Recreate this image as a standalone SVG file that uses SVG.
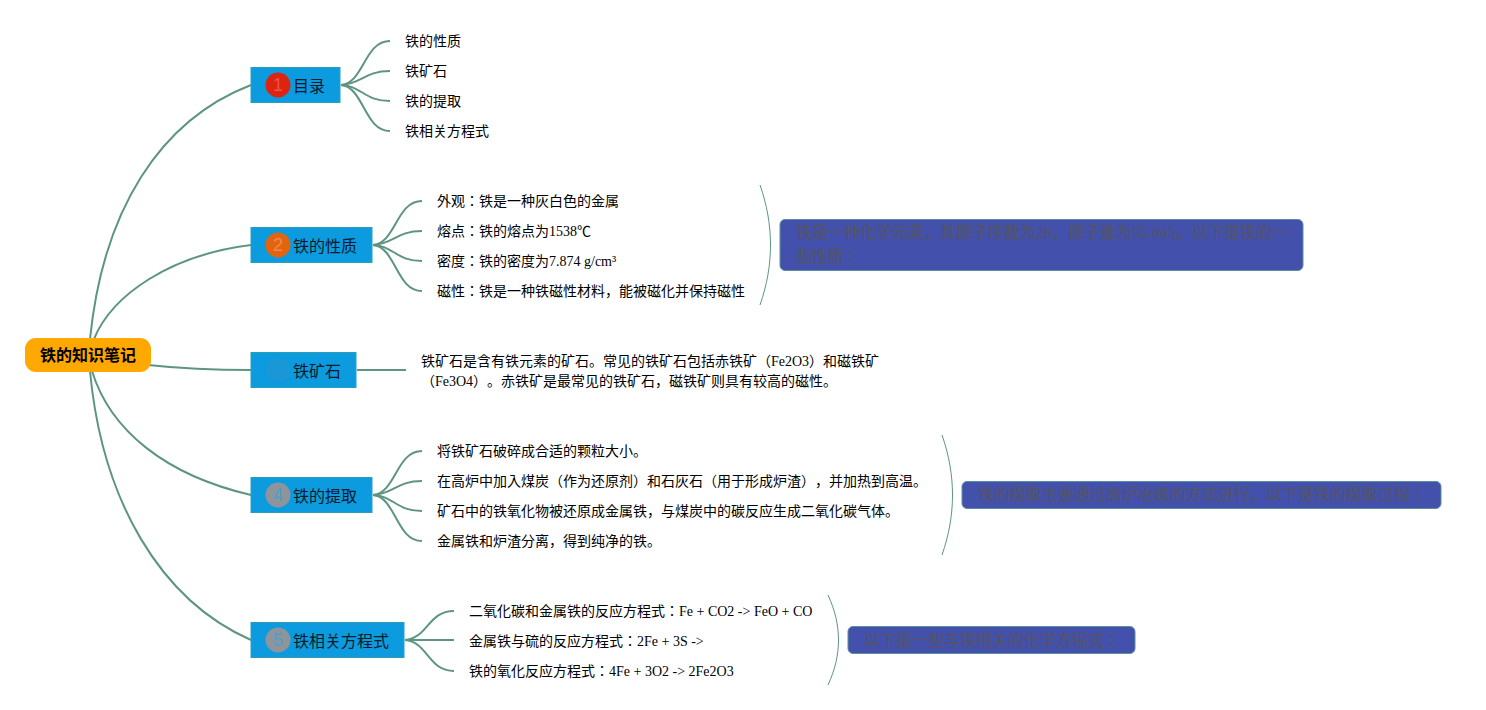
<svg xmlns="http://www.w3.org/2000/svg" width="1486" height="710" viewBox="0 0 1486 710">
<style>
text{font-family:"Liberation Serif","Noto Sans CJK JP",serif;font-size:14px;fill:#000;text-spacing-trim:space-all}
.c{fill:none;stroke:#5d9580;stroke-width:2}
.b{fill:none;stroke:#5d9580;stroke-width:1}
.n{fill:#0c9bdf;stroke:#2c9fb4;stroke-width:1}
.l{font-size:16px;fill:#0a1a2a}
.s{fill:#4350ac;stroke:#5a8f9c;stroke-width:1}
.d{font-size:16px;fill:#55555f}
.g{font-family:"Liberation Sans",sans-serif;font-size:18px;text-anchor:middle}
</style>
<rect width="1486" height="710" fill="#fff"/>
<g id="connectors">
<path class="c" d="M90 339C103 210 160 120 251 85"/>
<path class="c" d="M94 339C112 295 170 255 251 245"/>
<path class="c" d="M148 365C185 369 215 370 251 370"/>
<path class="c" d="M92 371C110 430 165 475 251 495"/>
<path class="c" d="M90 371C102 500 160 600 251 640"/>
<path class="c" d="M341 85C364 83 364 41 390 41"/>
<path class="c" d="M341 85C362 84 364 71 390 71"/>
<path class="c" d="M341 85C362 86 364 101 390 101"/>
<path class="c" d="M341 85C364 87 364 131 390 131"/>
<path class="c" d="M373 245C396 243 396 201 422 201"/>
<path class="c" d="M373 245C394 244 396 231 422 231"/>
<path class="c" d="M373 245C394 246 396 261 422 261"/>
<path class="c" d="M373 245C396 247 396 291 422 291"/>
<path class="c" d="M357 370H406"/>
<path class="c" d="M373 495C396 493 396 451 422 451"/>
<path class="c" d="M373 495C394 494 396 481 422 481"/>
<path class="c" d="M373 495C394 496 396 511 422 511"/>
<path class="c" d="M373 495C396 497 396 541 422 541"/>
<path class="c" d="M405 640C428 638 428 611 454 611"/>
<path class="c" d="M405 640H454"/>
<path class="c" d="M405 640C428 642 428 671 454 671"/>
<path class="b" d="M760 185C774 225 774 265 760 305"/>
<path class="b" d="M942 435C956 475 956 515 942 555"/>
<path class="b" d="M828 595C842 625 842 655 828 685"/>
</g>
<g id="root"><rect x="25" y="338" width="126" height="34" rx="11" fill="#ffa800"/><text x="88" y="361" text-anchor="middle" style="font-size:16px;font-weight:bold">铁的知识笔记</text></g>
<g id="n1"><rect class="n" x="251" y="67.500" width="89" height="35"/><circle cx="278" cy="85" r="12.500" fill="#dc2410"/><text class="g" x="278" y="91" style="fill:#e8544a">1</text><text class="l" x="293" y="92">目录</text></g>
<g id="n1a"><text x="405" y="46">铁的性质</text></g>
<g id="n1b"><text x="405" y="76">铁矿石</text></g>
<g id="n1c"><text x="405" y="106">铁的提取</text></g>
<g id="n1d"><text x="405" y="136">铁相关方程式</text></g>
<g id="n2"><rect class="n" x="251" y="227.500" width="121" height="35"/><circle cx="278" cy="245" r="12.500" fill="#e3640f"/><text class="g" x="278" y="251" style="fill:#f0894a">2</text><text class="l" x="293" y="252">铁的性质</text></g>
<g id="n2a"><text x="437" y="206">外观：铁是一种灰白色的金属</text></g>
<g id="n2b"><text x="437" y="236">熔点：铁的熔点为1538℃</text></g>
<g id="n2c"><text x="437" y="266">密度：铁的密度为7.874 g/cm³</text></g>
<g id="n2d"><text x="437" y="296">磁性：铁是一种铁磁性材料，能被磁化并保持磁性</text></g>
<g id="s2"><rect class="s" x="780" y="219.500" width="523" height="51" rx="5"/><text class="d" x="796" y="238">铁是一种化学元素，其原子序数为26，原子量为55.845。以下是铁的一</text><text class="d" x="796" y="262">些性质：</text></g>
<g id="n3"><rect class="n" x="251" y="352.500" width="105" height="35"/><circle cx="278" cy="370" r="12.500" fill="#1a97d6"/><text class="l" x="293" y="377">铁矿石</text></g>
<g id="n3a"><text x="421" y="366">铁矿石是含有铁元素的矿石。常见的铁矿石包括赤铁矿（Fe2O3）和磁铁矿</text><text x="421" y="386">（Fe3O4）。赤铁矿是最常见的铁矿石，磁铁矿则具有较高的磁性。</text></g>
<g id="n4"><rect class="n" x="251" y="477.500" width="121" height="35"/><circle cx="278" cy="495" r="12.500" fill="#8d959b"/><text class="g" x="278" y="501" style="fill:#4a9fd0">4</text><text class="l" x="293" y="502">铁的提取</text></g>
<g id="n4a"><text x="437" y="456">将铁矿石破碎成合适的颗粒大小。</text></g>
<g id="n4b"><text x="437" y="486">在高炉中加入煤炭（作为还原剂）和石灰石（用于形成炉渣），并加热到高温。</text></g>
<g id="n4c"><text x="437" y="516">矿石中的铁氧化物被还原成金属铁，与煤炭中的碳反应生成二氧化碳气体。</text></g>
<g id="n4d"><text x="437" y="546">金属铁和炉渣分离，得到纯净的铁。</text></g>
<g id="s4"><rect class="s" x="962" y="481.500" width="479" height="27" rx="5"/><text class="d" x="978" y="500">铁的提取主要通过高炉冶炼的方式进行。以下是铁的提取过程：</text></g>
<g id="n5"><rect class="n" x="251" y="622.500" width="153" height="35"/><circle cx="278" cy="640" r="12.500" fill="#8d959b"/><text class="g" x="278" y="646" style="fill:#4a9fd0">5</text><text class="l" x="293" y="647">铁相关方程式</text></g>
<g id="n5a"><text x="469" y="616">二氧化碳和金属铁的反应方程式：Fe + CO2 -&gt; FeO + CO</text></g>
<g id="n5b"><text x="469" y="646">金属铁与硫的反应方程式：2Fe + 3S -&gt;</text></g>
<g id="n5c"><text x="469" y="676">铁的氧化反应方程式：4Fe + 3O2 -&gt; 2Fe2O3</text></g>
<g id="s5"><rect class="s" x="848" y="626.500" width="287" height="27" rx="5"/><text class="d" x="864" y="646">以下是一些与铁相关的化学方程式：</text></g>
</svg>
